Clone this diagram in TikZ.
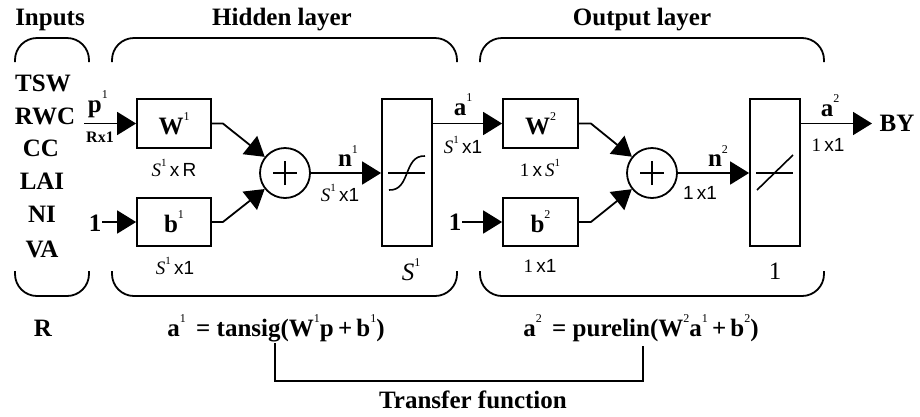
\documentclass[tikz,border=0pt]{standalone}
\usepackage{fontspec}
\setmainfont{Liberation Serif}
\newfontfamily\sansf{Liberation Sans}
\usetikzlibrary{arrows.meta}
\newcommand\up[1]{\raisebox{0.55em}{\fontsize{12pt}{12pt}\selectfont\mdseries\upshape #1}}
\newcommand\smup[1]{\raisebox{0.5em}{\fontsize{11pt}{11pt}\selectfont\mdseries\upshape #1}}
\newcommand\xx{{\sansf x}}
\newcommand\sone{{\sansf 1}}
\begin{document}
\begin{tikzpicture}[x=1pt,y=-1pt,line width=1.8pt,
  big/.style={font=\fontsize{25pt}{25pt}\selectfont\bfseries,inner sep=0pt},
  small/.style={font=\fontsize{19pt}{19pt}\selectfont,inner sep=0pt},
  blk/.style={draw,inner sep=0pt,font=\fontsize{25pt}{25pt}\selectfont\bfseries},
  sumnode/.style={draw,circle,minimum size=50pt,inner sep=0pt},
  arr/.style={-{Triangle[length=19pt,width=23pt]}},
  brace/.style={rounded corners=22pt}]
\useasboundingbox (0,0) rectangle (920,416);

% headers
\node[big] (hin) at (50,20) {Inputs};
\node[big] (hhid) at (282,20) {Hidden layer};
\node[big] (hout) at (642,20) {Output layer};

% braces
\draw[brace] (15,62) -- (15,38) -- (89,38) -- (89,62);
\draw[brace] (112,62) -- (112,38) -- (457,38) -- (457,62);
\draw[brace] (480,62) -- (480,38) -- (824,38) -- (824,62);
\draw[brace] (15,271) -- (15,296) -- (89,296) -- (89,271);
\draw[brace] (112,271) -- (112,296) -- (457,296) -- (457,271);
\draw[brace] (480,271) -- (480,296) -- (824,296) -- (824,271);

% inputs
\node[big] (tsw) at (43,83) {TSW};
\node[big] (rwc) at (45,116) {RWC};
\node[big] (cc) at (41,148) {CC};
\node[big] (lai) at (42,181) {LAI};
\node[big] (ni) at (42,214) {NI};
\node[big] (va) at (42,249) {VA};
\node[big] (rr) at (43,328) {R};

% hidden layer
\node[blk,minimum width=74pt,minimum height=49pt] (W1) at (174,123.5) {W\up{1}};
\node[blk,minimum width=74pt,minimum height=48pt] (b1) at (174,222) {b\up{1}};
\node[sumnode] (s1) at (285,173) {};
\draw ([xshift=-12pt]s1.center) -- ([xshift=12pt]s1.center)
      ([yshift=-12pt]s1.center) -- ([yshift=12pt]s1.center);
\node[draw,minimum width=50pt,minimum height=147pt,inner sep=0pt] (sig) at (407,172.5) {};
\draw[line width=1.2pt] (388,173) -- (425,173);
\draw[line width=1.6pt] (389,190) .. controls (411,191) and (403,155) .. (425,156);

% output layer
\node[blk,minimum width=75pt,minimum height=49pt] (W2) at (540.5,123.5) {W\up{2}};
\node[blk,minimum width=75pt,minimum height=48pt] (b2) at (540.5,222) {b\up{2}};
\node[sumnode] (s2) at (652,173) {};
\draw ([xshift=-12pt]s2.center) -- ([xshift=12pt]s2.center)
      ([yshift=-12pt]s2.center) -- ([yshift=12pt]s2.center);
\node[draw,minimum width=50pt,minimum height=147pt,inner sep=0pt] (lin) at (775,172.5) {};
\draw[line width=1.2pt] (756,173) -- (793,173);
\draw[line width=1.6pt] (757,190) -- (793,155);

% connectors
\coordinate (pin) at (84,123.5);
\draw[arr] (pin) -- (W1.west);
\node[big] (one1) at (95,223) {1};
\draw[arr] (one1.east |- b1.west) -- (b1.west);
\draw[arr] (W1.east) -- ++(11,0) -- (s1);
\draw[arr] (b1.east) -- ++(11,0) -- (s1);
\draw[arr] (s1.east) -- (s1.east -| sig.west);
\draw[arr] (sig.east |- W2.west) -- (W2.west);
\node[big] (one2) at (455,222) {1};
\draw[arr] (one2.east |- b2.west) -- (b2.west);
\draw[arr] (W2.east) -- ++(12,0) -- (s2);
\draw[arr] (b2.east) -- ++(12,0) -- (s2);
\draw[arr] (s2.east) -- (s2.east -| lin.west);
\coordinate (pout) at (872,123.5);
\draw[arr] (lin.east |- pout) -- (pout);
\node[big] (by) at (897,123) {BY};

% labels
\node[big,anchor=base west] (plab) at (87,112) {p\up{1}};
\node[font=\fontsize{16pt}{16pt}\selectfont\bfseries,inner sep=0pt] (rx1) at (100,137) {Rx1};
\node[small] (dW1) at (174,168) {\textit{S}\smup{1}\,\xx\,{\sansf R}};
\node[small] (db1) at (175,266) {\textit{S}\smup{1}\,\xx\sone};
\node[big] (n1) at (348,156) {n\up{1}};
\node[small] (dn1) at (340,193) {\textit{S}\smup{1}\,\xx\sone};
\node[font=\fontsize{25pt}{25pt}\selectfont\itshape,inner sep=0pt] (dsig) at (411,270) {S\up{1}};
\node[big] (a1) at (463,105) {a\up{1}};
\node[small] (da1) at (463,145) {\textit{S}\smup{1}\,\xx\sone};
\node[small] (dW2) at (540,168) {1\,\xx\,\textit{S}\smup{1}};
\node[small] (db2) at (540,266) {1\,\xx\sone};
\node[big] (n2) at (718,156) {n\up{2}};
\node[small] (dn2) at (700,193) {\sone\,\xx\sone};
\node[font=\fontsize{25pt}{25pt}\selectfont,inner sep=0pt] (dlin) at (775,271) {1};
\node[big] (a2) at (830,106) {a\up{2}};
\node[small] (da2) at (828,145) {1\,\xx\sone};

% equations
\node[big] (eq1) at (276,328) {a\up{1}\, = tansig(W\up{1}p\,+\,b\up{1})};
\node[big] (eq2) at (641,328) {a\up{2}\, = purelin(W\up{2}a\up{1}\,+\,b\up{2})};
\coordinate (t1) at (275,343);
\coordinate (t2) at (643,346);
\draw (t1) -- (275,381) -- (643,381) -- (t2);
\node[big] (tf) at (473,400) {Transfer function};
\end{tikzpicture}
\end{document}
